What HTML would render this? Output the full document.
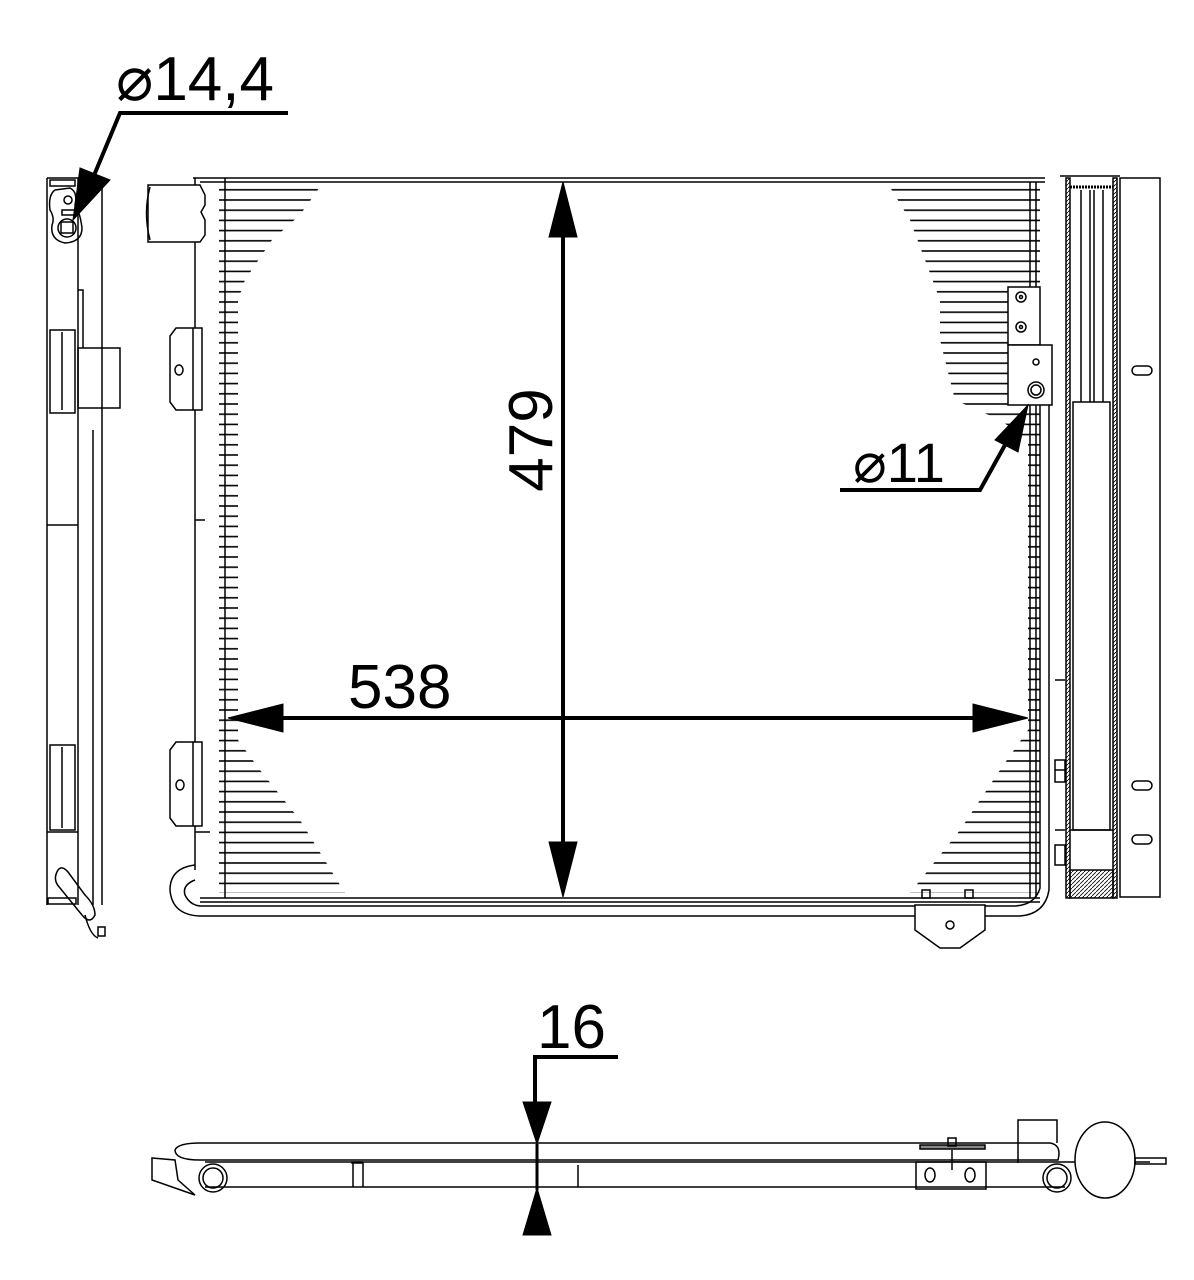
<!DOCTYPE html>
<html><head><meta charset="utf-8"><style>html,body{margin:0;padding:0;background:#fff}svg{display:block}</style></head>
<body>
<svg width="1194" height="1280" viewBox="0 0 1194 1280" xmlns="http://www.w3.org/2000/svg" font-family="Liberation Sans, sans-serif">
<defs>
<pattern id="fins" x="0" y="185" width="20" height="10.2" patternUnits="userSpaceOnUse">
<rect x="0" y="4" width="20" height="1.6" fill="#000"/>
</pattern>
<pattern id="hatch" width="4" height="4" patternUnits="userSpaceOnUse"><path d="M0 4L4 0" stroke="#000" stroke-width="0.8"/></pattern>
</defs>
<g fill="none" stroke="#000" stroke-width="1.5">
<!-- fins regions -->
<polygon points="219,184 322,184 300,215 272,240 245,280 238,300 238,740 260,770 300,820 345,893 219,893" fill="url(#fins)" stroke="none"/>
<polygon points="888,184 1040,184 1040,893 910,893 960,830 1000,770 1028,730 1028,440 1000,420 955,400 940,340 940,300 910,220" fill="url(#fins)" stroke="none"/>
<!-- core -->
<line x1="193" y1="178" x2="1045" y2="178"/>
<line x1="200" y1="182" x2="1045" y2="182"/>
<line x1="225" y1="178" x2="225" y2="898"/>
<line x1="200" y1="898" x2="1040" y2="898"/>
<line x1="200" y1="902" x2="1040" y2="902"/>
<line x1="195" y1="178" x2="195" y2="870"/>
<line x1="1030" y1="182" x2="1030" y2="898"/>
<line x1="1036" y1="182" x2="1036" y2="898"/>
<!-- left fitting -->
<path d="M148 185 H200 L205 195 V205 L201 212 L205 220 V235 L200 242 H148 Z" fill="#fff"/>
<path d="M150 187 Q143 213 150 240"/>
<!-- left brackets -->
<path d="M176 328 H202 V410 H176 L170 402 V336 Z" fill="#fff"/><line x1="193" y1="328" x2="193" y2="410"/><ellipse cx="179" cy="370" rx="4" ry="5"/>
<path d="M176 742 H202 V826 H176 L170 818 V750 Z" fill="#fff"/><line x1="193" y1="742" x2="193" y2="826"/><ellipse cx="180" cy="785" rx="4" ry="5"/>
<line x1="195" y1="520" x2="205" y2="520"/><line x1="195" y1="832" x2="210" y2="832"/>
<!-- bottom pipe -->
<path d="M195 865 Q170 868 170 890 Q172 915 200 916 H1020 Q1045 914 1049 890 V400"/>
<path d="M195 880 Q182 885 185 895 Q190 905 200 906 H1015 Q1035 905 1040 888 V400"/>
<path d="M915 905 H985 V930 L960 948 H940 L915 930 Z" fill="#fff"/><circle cx="950" cy="925" r="4"/>
<rect x="922" y="890" width="8" height="8"/><rect x="965" y="890" width="8" height="8"/>
<!-- right brackets -->
<rect x="1008" y="287" width="32" height="58" fill="#fff"/><circle cx="1021" cy="297" r="5"/><circle cx="1021" cy="297" r="1.5"/><circle cx="1021" cy="327" r="5"/><circle cx="1021" cy="327" r="1.5"/>
<rect x="1008" y="345" width="44" height="60" fill="#fff"/><circle cx="1036" cy="362" r="3"/><circle cx="1036" cy="390" r="8"/><circle cx="1036" cy="390" r="5"/>
<line x1="1055" y1="680" x2="1065" y2="680"/><line x1="1055" y1="770" x2="1065" y2="770"/><line x1="1055" y1="830" x2="1065" y2="830"/>
<rect x="1055" y="845" width="10" height="20"/><rect x="1055" y="760" width="10" height="22"/>
<!-- receiver drier -->
<rect x="1066" y="178" width="4" height="720" fill="url(#hatch)"/>
<rect x="1113" y="178" width="4" height="720" fill="url(#hatch)"/>
<line x1="1060" y1="176" x2="1120" y2="176"/>
<line x1="1070" y1="187" x2="1113" y2="187" stroke-width="3" stroke-dasharray="2,1"/>
<line x1="1081" y1="190" x2="1081" y2="402"/><line x1="1090" y1="190" x2="1090" y2="402"/><line x1="1094" y1="190" x2="1094" y2="402"/><line x1="1103" y1="190" x2="1103" y2="402"/>
<rect x="1073" y="402" width="37" height="428"/>
<line x1="1070" y1="830" x2="1113" y2="830"/>
<path d="M1070 870 H1113 V898 H1070 Z" fill="url(#hatch)"/>
<rect x="1120" y="178" width="40" height="719"/>
<rect x="1132" y="366" width="20" height="9" rx="4.5"/><rect x="1132" y="781" width="20" height="9" rx="4.5"/><rect x="1132" y="835" width="20" height="9" rx="4.5"/>
<!-- left side view -->
<line x1="47" y1="178" x2="47" y2="905"/><line x1="78" y1="178" x2="78" y2="905"/><line x1="93" y1="430" x2="93" y2="905"/><line x1="102" y1="180" x2="102" y2="905"/>
<line x1="47" y1="178" x2="102" y2="178"/>
<rect x="50" y="180" width="25" height="6"/>
<path d="M55 190 Q48 195 50 210 Q55 218 52 225 Q50 240 65 243 Q82 242 82 228 Q80 212 75 205 Q78 192 70 188 Z"/>
<circle cx="68" cy="200" r="4"/><rect x="62" y="210" width="15" height="5"/><circle cx="67" cy="228" r="9"/><rect x="61" y="222" width="12" height="11"/>
<rect x="78" y="348" width="42" height="60"/><path d="M78 290 H83 V348"/>
<rect x="50" y="330" width="25" height="83"/><line x1="62" y1="332" x2="62" y2="410"/>
<rect x="50" y="745" width="25" height="85"/><line x1="62" y1="747" x2="62" y2="828"/>
<line x1="47" y1="525" x2="78" y2="525"/><line x1="47" y1="832" x2="78" y2="832"/>
<rect x="48" y="898" width="28" height="6"/>
<path d="M58 870 Q52 880 60 888 L82 915 Q90 925 95 915 Q95 905 85 895 L68 872 Q62 865 58 870 Z"/>
<path d="M85 915 Q90 935 98 938"/><rect x="98" y="927" width="7" height="9"/>
<!-- bottom view -->
<path d="M200 1160 Q175 1160 175 1150 Q178 1143 200 1143 H1050 Q1062 1145 1058 1160 H200"/>
<line x1="205" y1="1162" x2="1150" y2="1162"/><line x1="205" y1="1187" x2="1065" y2="1187"/>
<path d="M152 1158 L175 1160 L178 1180 L195 1195 L152 1180 Z"/>
<circle cx="213" cy="1178" r="14"/><circle cx="213" cy="1178" r="10"/>
<circle cx="1057" cy="1178" r="14"/><circle cx="1057" cy="1178" r="10"/>
<ellipse cx="1105" cy="1160" rx="30" ry="38" fill="#fff"/>
<rect x="1135" y="1158" width="31" height="6"/>
<path d="M1018 1163 V1120 H1057 V1143"/>
<rect x="920" y="1145" width="65" height="4" fill="#888"/><rect x="948" y="1138" width="8" height="8"/><line x1="952" y1="1150" x2="952" y2="1170"/>
<rect x="916" y="1162" width="70" height="27"/><ellipse cx="930" cy="1175" rx="5" ry="7"/><ellipse cx="970" cy="1175" rx="5" ry="7"/>
<rect x="352" y="1162" width="10" height="1" /><line x1="353" y1="1162" x2="353" y2="1187"/><line x1="363" y1="1162" x2="363" y2="1187"/>
<line x1="578" y1="1165" x2="578" y2="1187"/>
</g>
<!-- dimension 479 -->
<g fill="#000" stroke="#000">
<line x1="563" y1="220" x2="563" y2="860" stroke-width="4"/>
<polygon points="563,182 549,237 577,237"/>
<polygon points="563,897 549,842 577,842"/>
<line x1="270" y1="718" x2="990" y2="718" stroke-width="4"/>
<polygon points="228,718 283,704 283,732"/>
<polygon points="1028,718 973,704 973,732"/>
<!-- leader 14,4 -->
<polyline points="288,113 120,113 90,185" fill="none" stroke-width="4"/>
<polygon points="73,220 80,168 110,180"/>
<!-- leader 11 -->
<polyline points="840,490 980,490 1005,445" fill="none" stroke-width="4"/>
<polygon points="1028,405 995,440 1018,452"/>
<!-- 16 -->
<polyline points="618,1057 535,1057 535,1110" fill="none" stroke-width="4"/>
<polygon points="537,1144 523,1102 551,1102"/>
<line x1="537" y1="1144" x2="537" y2="1190" stroke-width="3"/>
<polygon points="537,1188 523,1235 551,1235"/>
</g>
<g font-size="62" fill="#000">
<text x="116" y="100">⌀14,4</text>
<text x="348" y="708">538</text>
<text transform="translate(552,440) rotate(-90)" text-anchor="middle">479</text>
<text x="853" y="482" font-size="56">⌀11</text>
<text x="537" y="1048">16</text>
</g>
</svg>
</body></html>
